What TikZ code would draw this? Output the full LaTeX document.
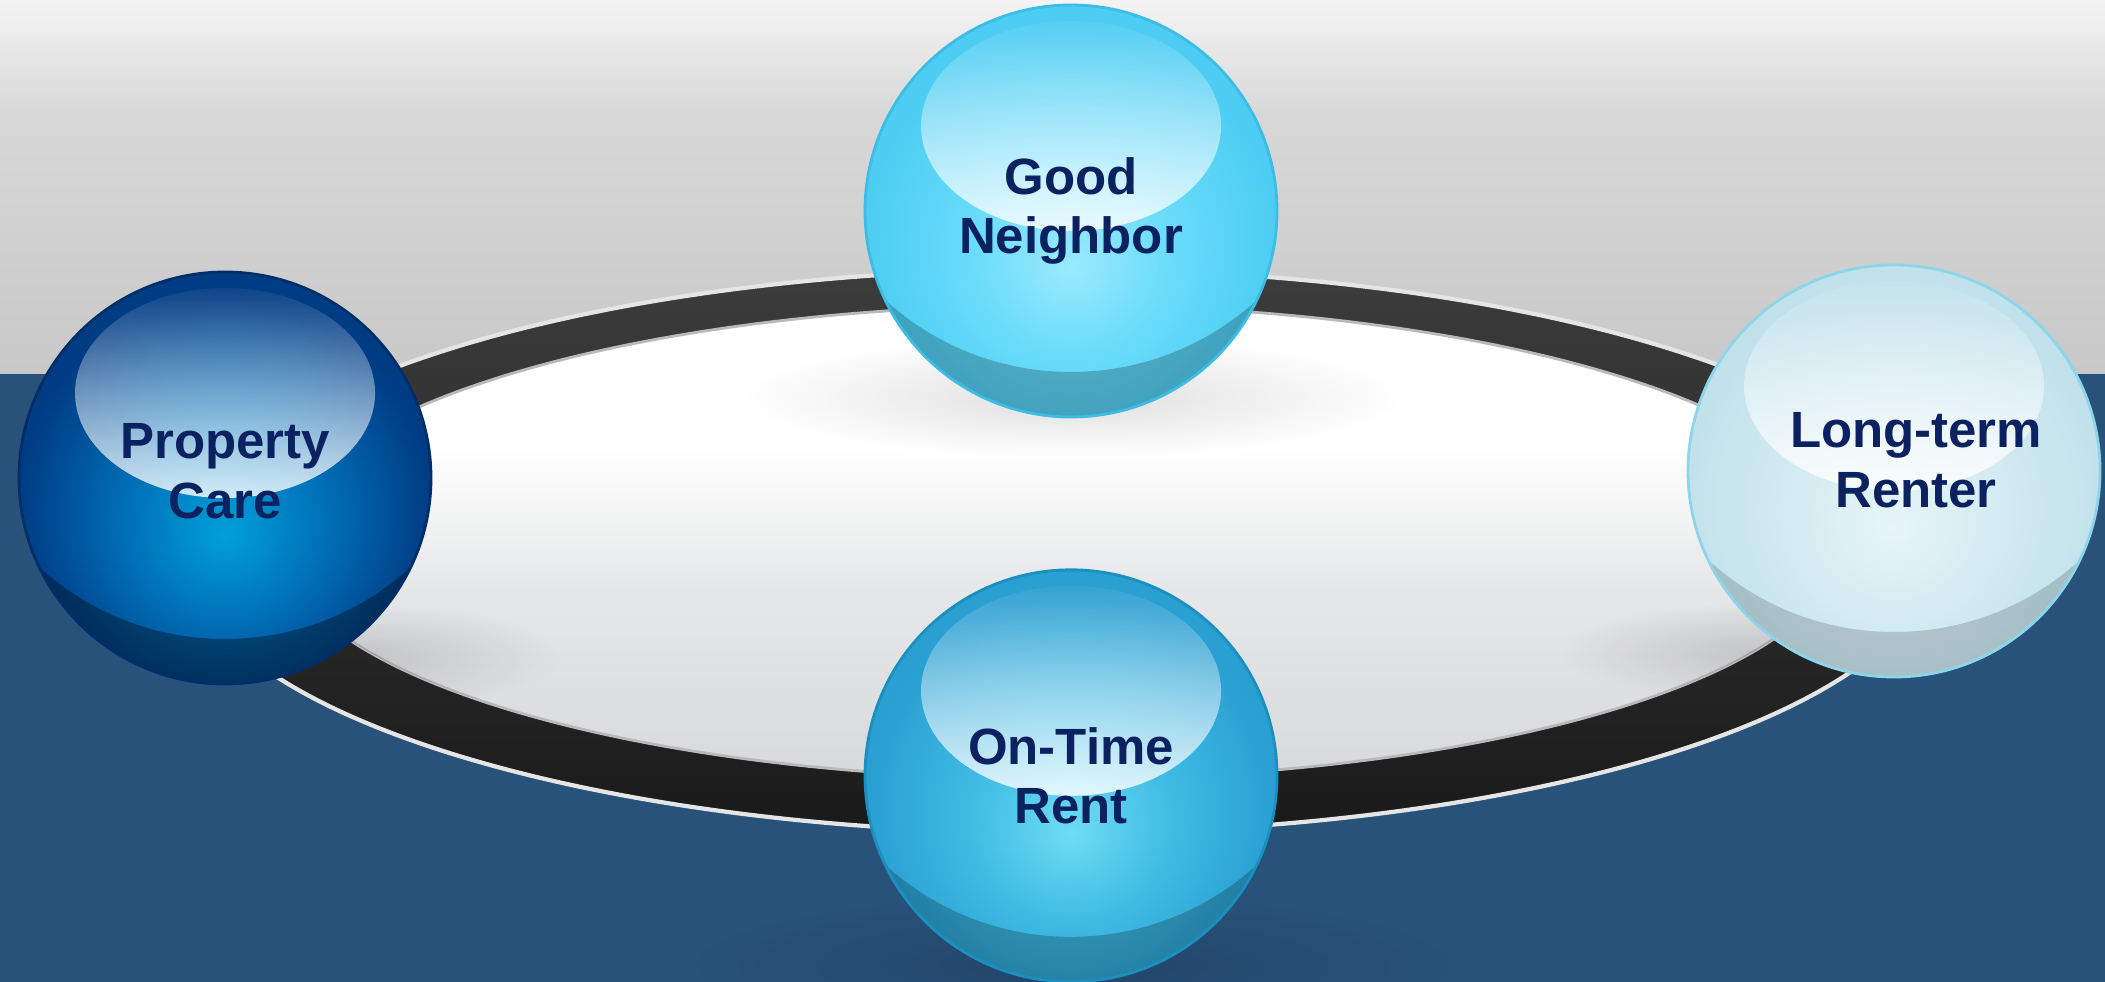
\documentclass[tikz,border=0pt]{standalone}
\usepackage{fontspec}
\setmainfont{Liberation Sans}
\usepackage{xcolor}
\usepackage{tikz}
\usetikzlibrary{shapes.geometric, fadings, positioning}

\definecolor{navytext}{HTML}{0B2160}
\definecolor{bgblue}{HTML}{29527A}
\definecolor{graylow}{HTML}{C8C8C8}
\definecolor{graymid}{HTML}{D8D8D8}
\definecolor{grayhigh}{HTML}{F4F4F4}
\definecolor{ringlow}{HTML}{1A1A1A}
\definecolor{ringhigh}{HTML}{3C3C3C}
\definecolor{platelow}{HTML}{D8D9DB}
\definecolor{platemid}{HTML}{E6E7E8}
\definecolor{pcA}{HTML}{00A0D8}
\definecolor{pcB}{HTML}{0070B8}
\definecolor{pcC}{HTML}{003C84}
\definecolor{pcedge}{HTML}{002E68}
\definecolor{gnA}{HTML}{9BEAFD}
\definecolor{gnB}{HTML}{6ADCFA}
\definecolor{gnC}{HTML}{4DCDF3}
\definecolor{gnedge}{HTML}{3CBDE6}
\definecolor{ltA}{HTML}{E6F5F8}
\definecolor{ltB}{HTML}{D5ECF2}
\definecolor{ltC}{HTML}{C2E2EB}
\definecolor{ltedge}{HTML}{8DD5EA}
\definecolor{otA}{HTML}{6EDDF3}
\definecolor{otB}{HTML}{40BCE4}
\definecolor{otC}{HTML}{2A9FD2}
\definecolor{otedge}{HTML}{1A8FC0}

\pgfdeclareverticalshading{topgray}{100bp}{color(0bp)=(graylow); color(25bp)=(graylow); color(60bp)=(graymid); color(75bp)=(grayhigh); color(100bp)=(grayhigh)}
\pgfdeclareverticalshading{ringband}{100bp}{color(0bp)=(ringlow); color(25bp)=(ringlow); color(75bp)=(ringhigh); color(100bp)=(ringhigh)}
\pgfdeclareverticalshading{plate}{100bp}{color(0bp)=(platelow); color(25bp)=(platelow); color(45bp)=(platemid); color(60bp)=(white); color(100bp)=(white)}
\pgfdeclareradialshading{pcbody}{\pgfpoint{0bp}{-7bp}}{color(0bp)=(pcA); color(12bp)=(pcB); color(25bp)=(pcC); color(50bp)=(pcC)}
\pgfdeclareradialshading{gnbody}{\pgfpoint{0bp}{-7bp}}{color(0bp)=(gnA); color(12bp)=(gnB); color(25bp)=(gnC); color(50bp)=(gnC)}
\pgfdeclareradialshading{ltbody}{\pgfpoint{0bp}{-7bp}}{color(0bp)=(ltA); color(12bp)=(ltB); color(25bp)=(ltC); color(50bp)=(ltC)}
\pgfdeclareradialshading{otbody}{\pgfpoint{0bp}{-7bp}}{color(0bp)=(otA); color(12bp)=(otB); color(25bp)=(otC); color(50bp)=(otC)}

\tikzfading[name=glossfade, top color=transparent!95, bottom color=transparent!18]
\tikzfading[name=softspot, inner color=transparent!0, outer color=transparent!100]

\newcommand{\orbfont}{\fontsize{14.5pt}{17pt}\selectfont\bfseries}

\begin{document}
\begin{tikzpicture}[
  orb/.style n args={3}{circle, minimum size=4.12cm, inner sep=0pt, shading=#1, draw=#2, line width=0.8pt,
    font=\orbfont, text=navytext, align=center,
    path picture={
      \fill[black, opacity=#3, even odd rule] (path picture bounding box.center) circle (2.1cm)
        ([yshift=1.15cm]path picture bounding box.center) circle (2.76cm);
      \fill[white, path fading=glossfade] ([yshift=0.85cm]path picture bounding box.center) ellipse (1.5cm and 1.05cm);
    }},
  spot/.style={black, opacity=#1, path fading=softspot}
]
\useasboundingbox (0,0) rectangle (21.05,-9.82);
\shade[shading=topgray] (0,0) rectangle (21.05,-3.74);
\fill[bgblue] (0,-3.74) rectangle (21.05,-9.82);

\shade[shading=ringband] (10.60,-5.51) ellipse (8.75 and 2.82);
\draw[white!80!gray, line width=1.2pt] (10.60,-5.51) ellipse (8.75 and 2.82);
\shade[shading=plate] (10.61,-5.42) ellipse (7.81 and 2.37);
\draw[gray!55, line width=0.8pt] (10.61,-5.42) ellipse (7.81 and 2.37);

\begin{scope}
  \clip (10.61,-5.42) ellipse (7.81 and 2.37);
  \fill[spot=0.13] (10.72,-3.97) ellipse (3.3 and 0.6);
  \fill[spot=0.13] (3.6,-6.57) ellipse (2.0 and 0.55);
  \fill[spot=0.13] (17.6,-6.52) ellipse (2.0 and 0.5);
\end{scope}
\fill[spot=0.15] (10.73,-9.65) ellipse (3.8 and 0.7);

\node (gn) [orb={gnbody}{gnedge}{0.22}] at (10.71,-2.11) {Good\\Neighbor};
\node (ot) [orb={otbody}{otedge}{0.22}, below=1.5cm of gn] {On-Time\\Rent};
\node (pc) [orb={pcbody}{pcedge}{0.35}, text depth=0.14cm] at (2.25,-4.78) {Property\\Care};
\node (lt) [orb={ltbody}{ltedge}{0.16}, text depth=0.22cm] at (18.94,-4.71) {\hspace*{0.44cm}Long-term\\\hspace*{0.44cm}Renter};
\end{tikzpicture}
\end{document}
